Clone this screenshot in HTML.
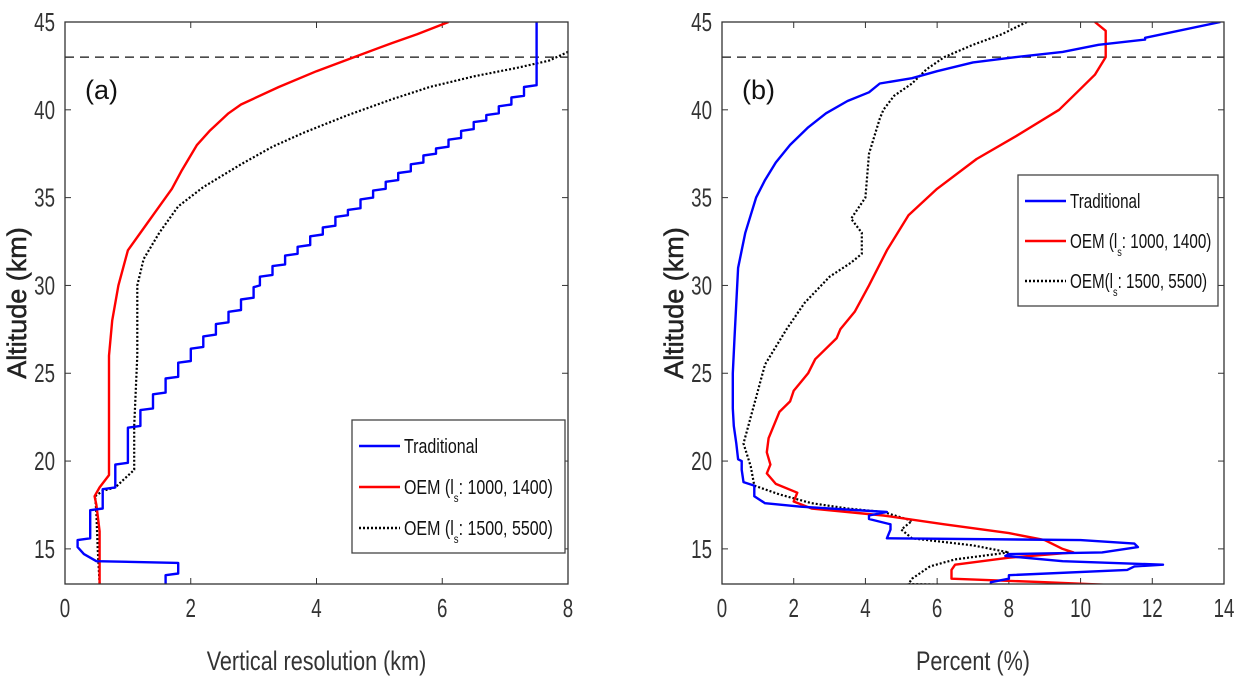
<!DOCTYPE html>
<html><head><meta charset="utf-8"><style>
body{margin:0;background:#fff}
svg{display:block;font-family:"Liberation Sans",sans-serif}
</style></head><body>
<svg id="fig" width="1247" height="689" viewBox="0 0 1247 689"></svg>
<script>
// Panel (a) data
const aTradStart=[[1.6,12.8],[1.6,13.5],[1.8,13.6],[1.8,14.2],[0.5,14.3],[0.3,14.7],[0.2,15.1],[0.2,15.5],[0.4,15.6],[0.4,17.2],[0.6,17.3],[0.6,18.4],[0.8,18.5],[0.8,19.8],[1.0,19.9],[1.0,20.9]];
const aTradStepX=[1.2,1.4,1.6,1.8,2.0,2.2,2.4,2.6,2.8,3.0,3.1,3.3,3.5,3.7,3.9,4.1,4.3,4.5,4.7,4.9,5.1,5.3,5.5,5.7,5.9,6.1,6.3,6.5,6.7,6.9,7.1,7.3,7.5];
const aTradStepAlt=[21.9,22.9,23.8,24.7,25.6,26.4,27.1,27.8,28.5,29.2,29.9,30.5,31.1,31.7,32.2,32.8,33.3,33.9,34.3,34.9,35.4,35.9,36.4,36.9,37.4,37.8,38.3,38.8,39.3,39.7,40.2,40.7,41.3];
const aTradTop=[[7.5,41.5],[7.5,45]];
const aRed=[[0.55,13],[0.55,16],[0.5,17.5],[0.47,18.0],[0.55,18.5],[0.7,19.2],[0.7,22],[0.7,26],[0.75,28],[0.85,30],[1.0,32],[1.3,33.5],[1.4,34],[1.7,35.5],[1.85,36.5],[2.1,38],[2.3,38.8],[2.6,39.8],[2.8,40.3],[3.4,41.3],[4.0,42.2],[4.6,43],[5.2,43.8],[5.6,44.3],[6.1,45]];
const aBlack=[[0.55,13],[0.52,15],[0.5,17],[0.48,18],[0.6,18.3],[0.8,18.5],[1.1,19.5],[1.1,22],[1.15,26],[1.15,30],[1.25,31.5],[1.5,33],[1.8,34.5],[2.2,35.6],[2.8,36.9],[3.3,37.9],[3.8,38.7],[4.5,39.7],[5.2,40.6],[5.8,41.3],[6.5,41.9],[7.2,42.4],[7.7,42.8],[8.0,43.3]];
// Panel (b) data
const bBlue=[[13.9,45],[11.8,44.1],[11.8,44],[10.5,43.7],[9.5,43.3],[8.2,43],[7,42.7],[6,42.2],[5.3,41.8],[4.4,41.5],[4.1,41],[3.5,40.5],[2.9,39.8],[2.4,39],[1.9,38],[1.5,37],[1.2,36],[0.95,35],[0.8,34],[0.65,33],[0.55,32],[0.45,31],[0.4,29],[0.35,27],[0.3,25],[0.3,23],[0.33,22],[0.4,21],[0.45,20.1],[0.55,20],[0.55,19.5],[0.6,18.8],[0.9,18.6],[0.9,18],[1.2,17.6],[2.2,17.4],[4.6,17.1],[4.1,16.9],[4.1,16.7],[4.7,16.4],[4.7,16.1],[4.6,15.6],[10,15.5],[11.5,15.3],[11.6,15.1],[10.6,14.8],[8.0,14.7],[7.9,14.6],[9.5,14.3],[12.3,14.1],[11.5,14],[11.3,13.8],[8,13.5],[8,13.3],[7.5,13.1],[7.5,12.8]];
const bRed=[[10.4,45],[10.7,44.5],[10.7,43],[10.4,42],[9.9,41],[9.4,40],[8.2,38.5],[7.1,37.2],[6,35.5],[5.2,34],[4.6,32],[4.1,30],[3.7,28.5],[3.3,27.5],[3.2,27],[2.6,25.8],[2.4,25],[2.0,24],[1.9,23.4],[1.6,22.8],[1.3,21.3],[1.25,20.5],[1.35,19.8],[1.25,19.3],[1.5,18.7],[2.1,18.2],[2.0,17.7],[2.5,17.3],[4.5,16.9],[6.2,16.4],[8.0,15.9],[9.0,15.5],[9.5,15.0],[9.8,14.8],[8,14.5],[6.5,14.1],[6.4,13.8],[6.4,13.3],[9,13.1],[12.5,12.8]];
const bBlack=[[8.5,45],[7.8,44.3],[7,43.7],[6.2,43],[5.7,42.3],[5.3,41.5],[4.8,40.8],[4.5,40],[4.4,39.5],[4.1,37.5],[4.0,35],[3.6,33.8],[3.9,33],[3.9,31.8],[3.6,31.3],[3.0,30.5],[2.3,29],[1.8,27.5],[1.2,25.5],[1.0,24],[0.8,22.5],[0.6,21],[0.8,19.7],[0.9,18.6],[1.6,18.1],[2.5,17.6],[3.5,17.3],[4.5,17.1],[5.3,16.6],[5.0,16.1],[5.3,15.6],[7.0,15.2],[8.0,14.8],[6.5,14.4],[5.8,14],[5.3,13.3],[5.2,13],[8,12.9],[9.5,12.8]];
const yTicks=[15,20,25,30,35,40,45];
const aXTicks=[0,2,4,6,8];
const bXTicks=[0,2,4,6,8,10,12,14];
const refAlt=43;

const NS="http://www.w3.org/2000/svg";
const svg=document.getElementById('fig');
function mk(tag,attrs,parent){const e=document.createElementNS(NS,tag);for(const k in attrs)e.setAttribute(k,attrs[k]);(parent||svg).appendChild(e);return e;}

function panel(id,L,R,xmax,xTicks,xlabel,tag,series,legend){
  const T=22,B=584,ymin=13,ymax=45;
  const sx=v=>L+(v/xmax)*(R-L), sy=v=>B-(v-ymin)/(ymax-ymin)*(B-T);
  const g=mk('g',{});
  
  
  const cp=mk('clipPath',{id:'clip-'+id},g);
  mk('rect',{x:L,y:T,width:R-L,height:B-T},cp);
  mk('rect',{x:L,y:T,width:R-L,height:B-T,fill:'#fff',stroke:'none'},g);
  yTicks.forEach(v=>{
    const y=sy(v);
    mk('line',{x1:L,x2:L+6,y1:y,y2:y,stroke:'#333','stroke-width':1},g);
    mk('line',{x1:R,x2:R-6,y1:y,y2:y,stroke:'#333','stroke-width':1},g);
    const t=mk('text',{x:L-10,y:y+9,'text-anchor':'end','font-size':26,fill:'#333',transform:`translate(${L-10},0) scale(0.72,1) translate(${-(L-10)},0)`},g);
    t.textContent=v;
    
    
  });
  xTicks.forEach(v=>{
    const x=sx(v);
    mk('line',{x1:x,x2:x,y1:B,y2:B-6,stroke:'#333','stroke-width':1},g);
    mk('line',{x1:x,x2:x,y1:T,y2:T+6,stroke:'#333','stroke-width':1},g);
    const t=mk('text',{x:x,y:B+33,'text-anchor':'middle','font-size':26,fill:'#333',transform:`translate(${x},0) scale(0.72,1) translate(${-x},0)`},g);
    t.textContent=v;
    
    
  });
  const lg=mk('g',{'clip-path':`url(#clip-${id})`},g);
  const dl=mk('line',{x1:L,x2:R,y1:sy(refAlt),y2:sy(refAlt),stroke:'#111','stroke-width':1.3,'stroke-dasharray':'9,6'},lg);
  
  
  series.forEach(s=>{
    const p=mk('polyline',{points:s.pts.map(q=>sx(q[0]).toFixed(1)+','+sy(q[1]).toFixed(1)).join(' '),fill:'none',stroke:s.color,'stroke-width':s.dot?2.2:2.4,'stroke-dasharray':s.dot?'2,2':'none','stroke-linejoin':'round'},lg);
    
    
  });
  mk('rect',{x:L,y:T,width:R-L,height:B-T,fill:'none',stroke:'#333','stroke-width':1.3},g);
  const tg=mk('text',{x:L+20,y:T+77,'font-size':27,fill:'#111'},g);
  tg.textContent=tag;
  
  
  const xl=mk('text',{x:(L+R)/2,y:670,'text-anchor':'middle','font-size':27,fill:'#333',transform:`translate(${(L+R)/2},0) scale(0.8,1) translate(${-(L+R)/2},0)`},g);
  xl.textContent=xlabel;
  
  
  const yl=mk('text',{x:0,y:0,'text-anchor':'middle','font-size':27,fill:'#222',stroke:'#222','stroke-width':0.5,transform:`translate(${L-39},${(T+B)/2}) rotate(-90)`},g);
  yl.textContent='Altitude (km)';
  
  
  const lb=mk('g',{},g);
  
  
  mk('rect',{x:legend.x,y:legend.y,width:legend.w,height:legend.h,fill:'#fff',stroke:'#444','stroke-width':1.3},lb);
  legend.items.forEach((it,i)=>{
    const y=legend.y+26+i*legend.dy;
    mk('line',{x1:legend.x+7,x2:legend.x+48,y1:y,y2:y,stroke:it.color,'stroke-width':2.4,'stroke-dasharray':it.dot?'2,2':'none'},lb);
    const t=mk('text',{x:legend.x+52,y:y+7,'font-size':20,fill:'#111',transform:`translate(${legend.x+52},0) scale(${legend.sc},1) translate(${-(legend.x+52)},0)`},lb);
    t.innerHTML=it.label;
    
    
  });
}

const aTrad=aTradStart.slice();
let prevX=aTradStart[aTradStart.length-1][0];
aTradStepX.forEach((x,i)=>{aTrad.push([prevX,aTradStepAlt[i]]);aTrad.push([x,aTradStepAlt[i]+0.1]);prevX=x;});
aTradTop.forEach(p=>aTrad.push(p));

panel('panel-a',65,568,8,aXTicks,'Vertical resolution (km)','(a)',[
  {pts:aBlack,color:'#000',dot:true,name:'oem-1500-5500-line'},
  {pts:aRed,color:'#f00',name:'oem-1000-1400-line'},
  {pts:aTrad,color:'#00f',name:'traditional-line'}],
  {x:352,y:420,w:213,h:133,dy:41,sc:0.8,items:[
    {color:'#00f',label:'Traditional'},
    {color:'#f00',label:'OEM (l<tspan dy="8" font-size="12">s</tspan><tspan dy="-8">: 1000, 1400)</tspan>'},
    {color:'#000',dot:true,label:'OEM (l<tspan dy="8" font-size="12">s</tspan><tspan dy="-8">: 1500, 5500)</tspan>'}]});
panel('panel-b',722,1224,14,bXTicks,'Percent (%)','(b)',[
  {pts:bBlack,color:'#000',dot:true,name:'oem-1500-5500-line'},
  {pts:bRed,color:'#f00',name:'oem-1000-1400-line'},
  {pts:bBlue,color:'#00f',name:'traditional-line'}],
  {x:1018,y:175,w:200,h:131,dy:40,sc:0.76,items:[
    {color:'#00f',label:'Traditional'},
    {color:'#f00',label:'OEM (l<tspan dy="8" font-size="12">s</tspan><tspan dy="-8">: 1000, 1400)</tspan>'},
    {color:'#000',dot:true,label:'OEM(l<tspan dy="8" font-size="12">s</tspan><tspan dy="-8">: 1500, 5500)</tspan>'}]});
</script>
</body></html>
